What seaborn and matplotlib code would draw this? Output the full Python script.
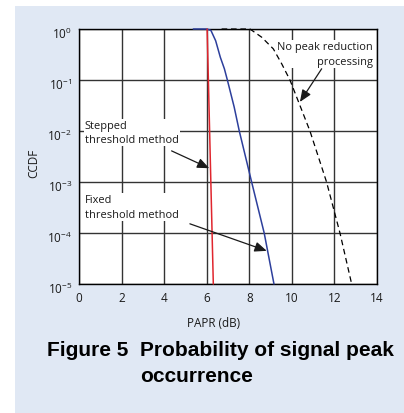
import numpy as np
import pandas as pd
import matplotlib
matplotlib.use("Agg")
import matplotlib.pyplot as plt
from matplotlib.patches import Rectangle
from matplotlib.transforms import ScaledTranslation
import seaborn as sns

# ---- data ----
stepped_x = [6.02, 6.31]
stepped_y = [1.0, 1e-5]

fixed_x = [5.37, 6.02, 6.2, 6.42, 6.64, 6.83, 6.97, 7.29, 7.53, 8.11, 8.70, 9.16]
fixed_y = [1.0, 1.0, 10**-0.03, 10**-0.23, 10**-0.555, 10**-0.78, 1e-1,
           10**-1.53, 1e-2, 1e-3, 1e-4, 1e-5]

noproc_x = [6.70, 8.03, 8.58, 9.13, 9.52, 9.91, 10.85, 11.63, 12.26, 12.81]
noproc_y = [1.0, 1.0, 10**-0.16, 10**-0.39, 10**-0.68, 1e-1, 1e-2, 1e-3, 1e-4, 1e-5]

x_ticks = [0, 2, 4, 6, 8, 10, 12, 14]
y_ticks = [1e-5, 1e-4, 1e-3, 1e-2, 1e-1, 1e0]

W, H = 404, 414
sns.set_theme(style="white")
plt.rcParams['font.family'] = ['Open Sans', 'DejaVu Sans']
plt.rcParams['mathtext.fontset'] = 'custom'
plt.rcParams['mathtext.rm'] = 'Open Sans'

fig = plt.figure(figsize=(W / 100, H / 100), dpi=100)
fig.patch.set_facecolor('white')
fig.patches.append(Rectangle((15 / W, 0), (W - 15) / W, (H - 7) / H,
                             transform=fig.transFigure, facecolor='#E0E8F4',
                             edgecolor='none', zorder=-10))

ax = fig.add_axes([79 / W, 1 - 285 / H, (377 - 79) / W, (285 - 30) / H])
ax.set_facecolor('white')

df_s = pd.DataFrame({'x': stepped_x, 'y': stepped_y})
df_f = pd.DataFrame({'x': fixed_x, 'y': fixed_y})
df_n = pd.DataFrame({'x': noproc_x, 'y': noproc_y})

sns.lineplot(data=df_f, x='x', y='y', ax=ax, color='#2D3F9C', lw=1.1,
             estimator=None, sort=False, zorder=4, clip_on=False)
sns.lineplot(data=df_s, x='x', y='y', ax=ax, color='#E0262E', lw=1.1,
             estimator=None, sort=False, zorder=5, clip_on=False)
sns.lineplot(data=df_n, x='x', y='y', ax=ax, color='black', lw=0.9,
             estimator=None, sort=False, zorder=4, linestyle=(0, (4.5, 3)),
             clip_on=False)

ax.set_yscale('log')
ax.set_xlim(0, 14)
ax.set_ylim(1e-5, 1)
ax.set_xticks(x_ticks)
ax.set_yticks(y_ticks)
ax.minorticks_off()
ax.grid(True, color='#333333', lw=1.0, zorder=1)
ax.set_axisbelow(True)
for s in ax.spines.values():
    s.set_color('black')
    s.set_linewidth(1.0)
ax.tick_params(axis='both', length=0, labelsize=8.5, colors='#1a1a1a')
ax.tick_params(axis='x', pad=5)
ax.tick_params(axis='y', pad=5)
offset = ScaledTranslation(0, -3 / 100, fig.dpi_scale_trans)
for lab in ax.get_yticklabels():
    lab.set_transform(lab.get_transform() + offset)

ax.set_xlabel('PAPR (dB)', fontsize=8.5, color='#1a1a1a')
ax.set_ylabel('CCDF', fontsize=8.5, color='#1a1a1a')
ax.xaxis.set_label_coords((214 - 79) / (377 - 79), -(316.7 - 285) / (285 - 30))
ax.yaxis.set_label_coords(-(79 - 40) / (377 - 79), 1 - (163 - 30) / (285 - 30))

bbox = dict(boxstyle='square,pad=0.1', facecolor='white', edgecolor='none')
tfs = 7.9
ax.text(13.82, 10**-0.49, 'No peak reduction\nprocessing', ha='right', va='center',
        multialignment='right', fontsize=tfs, color='#1a1a1a', bbox=bbox,
        linespacing=1.4, zorder=3)
ax.text(0.28, 10**-2.03, 'Stepped\nthreshold method', ha='left', va='center',
        fontsize=tfs, color='#1a1a1a', bbox=bbox, linespacing=1.4, zorder=3)
ax.text(0.28, 10**-3.49, 'Fixed\nthreshold method', ha='left', va='center',
        fontsize=tfs, color='#1a1a1a', bbox=bbox, linespacing=1.4, zorder=3)

ap = dict(arrowstyle='-|>,head_length=0.6,head_width=0.25', color='#1a1a1a',
          lw=0.9, shrinkA=0, shrinkB=0)
ax.annotate('', xy=(10.38, 10**-1.43), xytext=(11.40, 10**-0.78), arrowprops=ap, zorder=6)
ax.annotate('', xy=(6.12, 10**-2.73), xytext=(4.35, 10**-2.39), arrowprops=ap, zorder=6)
ax.annotate('', xy=(8.82, 10**-4.35), xytext=(5.21, 10**-3.82), arrowprops=ap, zorder=6)

tfont = dict(family=['Liberation Sans', 'DejaVu Sans'], weight='bold', fontsize=15,
             color='black')
fig.text(47 / W, 1 - 356 / H, 'Figure 5', ha='left', va='baseline', **tfont)
fig.text(140 / W, 1 - 356 / H, 'Probability of signal peak', ha='left', va='baseline', **tfont)
fig.text(140 / W, 1 - 381.7 / H, 'occurrence', ha='left', va='baseline', **tfont)

fig.savefig('out.png', dpi=100)
